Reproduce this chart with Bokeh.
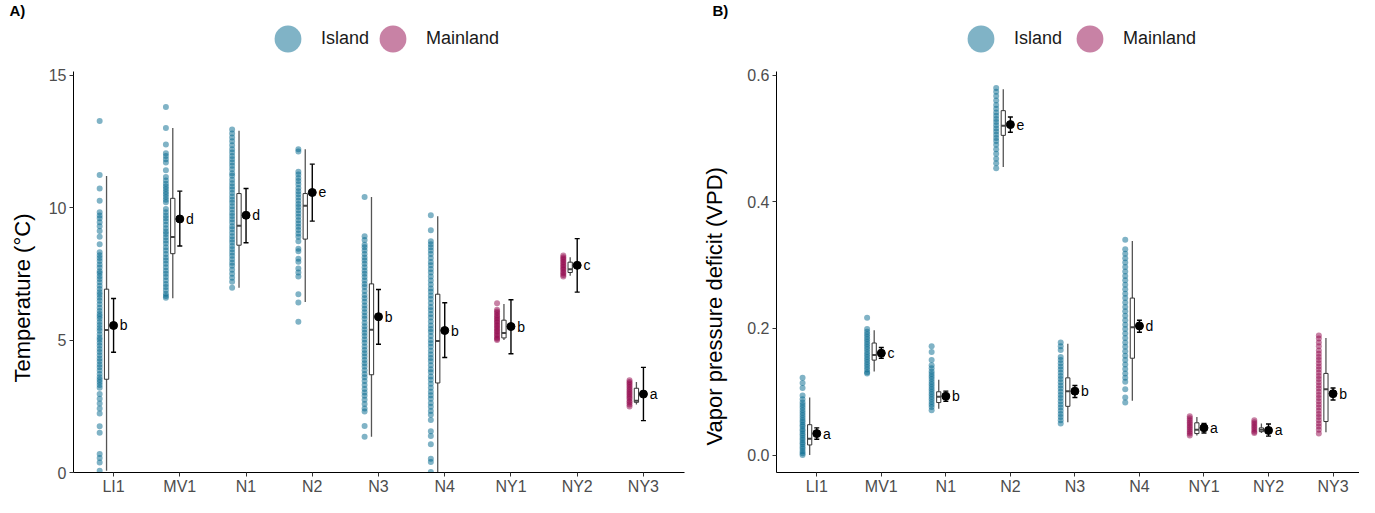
from bokeh.plotting import figure
from bokeh.models import ColumnDataSource, FixedTicker, Legend, LegendItem, Range1d, Title
from bokeh.layouts import row
from bokeh.embed import file_html
from bokeh.resources import INLINE
from bokeh.core.properties import value

# ---------------- data ----------------
categories = ["LI1", "MV1", "N1", "N2", "N3", "N4", "NY1", "NY2", "NY3"]
origin = ["Island", "Island", "Island", "Island", "Island", "Island", "Mainland", "Mainland", "Mainland"]

# Panel A: temperature (°C) raw observations per site
temp_points = {
    "LI1": [13.27, 11.23, 10.72, 10.26, 9.82, 9.7, 9.6, 9.45, 9.3, 9.12, 8.9, 8.62, 8.31, 8.2, 8.1, 7.98, 7.85,
            7.74, 7.6, 7.52, 7.41, 7.3, 7.18, 7.05, 6.93, 6.8, 6.71, 6.6, 6.48, 6.35, 6.22, 6.1, 5.98, 5.9, 5.8,
            5.68, 5.57, 5.45, 5.35, 5.22, 5.1, 5.01, 4.9, 4.78, 4.66, 4.55, 4.43, 4.3, 4.2, 4.08, 3.97, 3.85,
            3.72, 3.6, 3.5, 3.41, 3.3, 3.2, 2.96, 2.78, 2.6, 2.42, 2.23, 1.75, 1.5, 0.7, 0.55, 0.38, 0.07],
    "MV1": [13.8, 13.0, 12.38, 12.05, 11.95, 11.82, 11.7, 11.41, 11.15, 11.02, 10.9, 10.8, 10.7, 10.6, 10.5,
            10.4, 10.3, 10.2, 9.95, 9.82, 9.7, 9.6, 9.48, 9.35, 9.22, 9.1, 9.0, 8.88, 8.76, 8.64, 8.5, 8.38,
            8.25, 8.12, 8.0, 7.88, 7.75, 7.62, 7.5, 7.38, 7.25, 7.12, 7.0, 6.88, 6.75, 6.66, 6.6],
    "N1": [12.95, 12.8, 12.65, 12.5, 12.35, 12.2, 12.08, 11.95, 11.82, 11.7, 11.58, 11.45, 11.3, 11.2, 11.05,
           10.92, 10.8, 10.68, 10.55, 10.42, 10.3, 10.18, 10.05, 9.93, 9.8, 9.68, 9.56, 9.44, 9.3, 9.18, 9.05,
           8.92, 8.8, 8.68, 8.55, 8.43, 8.3, 8.18, 8.05, 7.92, 7.8, 7.65, 7.5, 7.35, 7.2, 6.97],
    "N2": [12.2, 12.12, 11.35, 11.25, 11.12, 11.0, 10.88, 10.74, 10.62, 10.5, 10.38, 10.26, 10.14, 10.02, 9.9,
           9.78, 9.65, 9.52, 9.4, 9.28, 9.15, 9.02, 8.9, 8.73, 8.45, 8.35, 8.07, 7.96, 7.7, 7.55, 7.4, 6.73,
           6.42, 5.69],
    "N3": [10.4, 8.92, 8.78, 8.6, 8.5, 8.38, 8.25, 8.12, 8.0, 7.88, 7.75, 7.62, 7.5, 7.38, 7.25, 7.12, 7.0,
           6.85, 6.7, 6.58, 6.45, 6.3, 6.18, 6.05, 5.92, 5.8, 5.65, 5.52, 5.4, 5.28, 5.15, 5.02, 4.9, 4.76,
           4.62, 4.5, 4.38, 4.25, 4.12, 4.0, 3.86, 3.72, 3.6, 3.45, 3.3, 3.15, 3.02, 2.9, 2.75, 2.59, 2.42,
           2.3, 1.76, 1.35],
    "N4": [9.71, 9.14, 8.73, 8.62, 8.5, 8.38, 8.25, 8.1, 7.95, 7.82, 7.68, 7.55, 7.4, 7.25, 7.1, 6.95, 6.82,
           6.68, 6.55, 6.4, 6.25, 6.12, 5.98, 5.85, 5.7, 5.55, 5.42, 5.3, 5.15, 5.0, 4.88, 4.75, 4.6, 4.45,
           4.32, 4.2, 4.05, 3.9, 3.78, 3.62, 3.5, 3.35, 3.2, 3.05, 2.92, 2.78, 2.62, 2.48, 2.32, 2.18, 1.98,
           1.56, 1.38, 1.07, 0.52, 0.4, 0.02],
    "NY1": [6.39, 6.14, 6.08, 6.02, 5.95, 5.89, 5.82, 5.77, 5.7, 5.65, 5.58, 5.53, 5.46, 5.41, 5.34, 5.29,
            5.22, 5.17, 5.1, 5.05, 5.0],
    "NY2": [8.19, 8.13, 8.07, 8.01, 7.95, 7.89, 7.82, 7.77, 7.7, 7.65, 7.58, 7.52, 7.46, 7.4],
    "NY3": [3.48, 3.42, 3.36, 3.29, 3.23, 3.16, 3.1, 3.03, 2.97, 2.91, 2.84, 2.78, 2.7, 2.64, 2.57, 2.49],
}
temp_q1 = [3.52, 8.26, 8.58, 8.81, 3.69, 3.38, 5.08, 7.55, 2.65]
temp_median = [5.38, 8.89, 9.31, 10.07, 5.39, 4.96, 5.27, 7.67, 2.71]
temp_q3 = [6.92, 10.35, 10.53, 10.53, 7.12, 6.73, 5.75, 7.94, 3.18]
temp_whisker_lo = [0.07, 6.58, 6.97, 6.44, 1.35, 0.0, 5.0, 7.43, 2.57]
temp_whisker_hi = [11.19, 13.0, 12.9, 12.2, 10.4, 9.67, 6.36, 8.13, 3.42]
temp_mean = [5.55, 9.57, 9.71, 10.57, 5.88, 5.36, 5.51, 7.82, 2.96]
temp_err_lo = [4.54, 8.55, 8.67, 9.49, 4.84, 4.34, 4.48, 6.81, 1.96]
temp_err_hi = [6.57, 10.62, 10.72, 11.64, 6.91, 6.41, 6.52, 8.83, 3.97]
temp_letters = ["b", "d", "d", "e", "b", "b", "b", "c", "a"]

# Panel B: vapor pressure deficit raw observations per site
vpd_points = {
    "LI1": [0.122, 0.114, 0.106, 0.094, 0.088, 0.083, 0.079, 0.075, 0.071, 0.067, 0.063, 0.059, 0.055, 0.052,
            0.048, 0.045, 0.041, 0.038, 0.034, 0.031, 0.027, 0.024, 0.02, 0.017, 0.013, 0.01, 0.006, 0.003, 0.0],
    "MV1": [0.217, 0.199, 0.195, 0.191, 0.187, 0.183, 0.179, 0.175, 0.171, 0.167, 0.163, 0.159, 0.155, 0.151,
            0.147, 0.143, 0.139, 0.135, 0.131, 0.129],
    "N1": [0.172, 0.163, 0.15, 0.142, 0.137, 0.132, 0.128, 0.124, 0.12, 0.116, 0.112, 0.108, 0.104, 0.1, 0.096,
           0.092, 0.088, 0.084, 0.08, 0.076, 0.071],
    "N2": [0.58, 0.574, 0.567, 0.56, 0.553, 0.547, 0.541, 0.536, 0.531, 0.526, 0.521, 0.516, 0.511, 0.506,
           0.501, 0.496, 0.49, 0.483, 0.476, 0.468, 0.461, 0.453],
    "N3": [0.178, 0.172, 0.166, 0.155, 0.15, 0.145, 0.14, 0.135, 0.13, 0.125, 0.12, 0.115, 0.11, 0.105, 0.1,
           0.095, 0.09, 0.085, 0.08, 0.075, 0.07, 0.065, 0.06, 0.055, 0.05],
    "N4": [0.34, 0.325, 0.318, 0.311, 0.304, 0.297, 0.29, 0.283, 0.276, 0.269, 0.262, 0.255, 0.248, 0.241,
           0.234, 0.227, 0.22, 0.213, 0.206, 0.199, 0.192, 0.185, 0.178, 0.171, 0.164, 0.157, 0.15, 0.143,
           0.136, 0.129, 0.122, 0.116, 0.104, 0.091, 0.083],
    "NY1": [0.0615, 0.058, 0.055, 0.052, 0.049, 0.046, 0.043, 0.04, 0.037, 0.034, 0.031],
    "NY2": [0.055, 0.052, 0.049, 0.046, 0.043, 0.04, 0.037, 0.035],
    "NY3": [0.189, 0.184, 0.178, 0.172, 0.165, 0.16, 0.155, 0.15, 0.145, 0.14, 0.135, 0.13, 0.125, 0.12,
            0.115, 0.11, 0.105, 0.1, 0.095, 0.09, 0.085, 0.08, 0.075, 0.07, 0.065, 0.06, 0.055, 0.05, 0.045,
            0.04, 0.034],
}
vpd_q1 = [0.016, 0.150, 0.083, 0.505, 0.077, 0.153, 0.034, 0.037, 0.053]
vpd_median = [0.026, 0.158, 0.092, 0.520, 0.101, 0.202, 0.040, 0.040, 0.104]
vpd_q3 = [0.048, 0.177, 0.100, 0.544, 0.122, 0.248, 0.051, 0.043, 0.129]
vpd_whisker_lo = [0.0, 0.132, 0.073, 0.455, 0.052, 0.086, 0.031, 0.035, 0.036]
vpd_whisker_hi = [0.091, 0.197, 0.119, 0.578, 0.176, 0.338, 0.060, 0.050, 0.185]
vpd_mean = [0.034, 0.161, 0.093, 0.522, 0.101, 0.204, 0.043, 0.039, 0.097]
vpd_err_lo = [0.025, 0.153, 0.085, 0.510, 0.091, 0.194, 0.035, 0.030, 0.087]
vpd_err_hi = [0.043, 0.170, 0.101, 0.534, 0.110, 0.213, 0.050, 0.049, 0.106]
vpd_letters = ["a", "c", "b", "e", "b", "d", "a", "a", "b"]

temp_ticks = [0, 5, 10, 15]
temp_tick_labels = ["0", "5", "10", "15"]
vpd_ticks = [0.0, 0.2, 0.4, 0.6]
vpd_tick_labels = ["0.0", "0.2", "0.4", "0.6"]

# ---------------- style ----------------
FONT = "Liberation Sans"
COLORS = {"Island": "#01678d", "Mainland": "#91054b"}
H = 497


def make_panel(tag, ylabel, points, q1, med, q3, wlo, whi, mean, elo, ehi, letters, ticks, tick_labels,
               width, xr, yr, ybounds, mbr, ylab_offset, ylab_standoff, pt_off, box_off, legend_xs):
    p = figure(width=width, height=H, x_range=Range1d(*xr), y_range=Range1d(*yr),
               output_backend="svg", toolbar_location=None,
               min_border_left=0, min_border_right=mbr, min_border_top=16, min_border_bottom=0)
    p.outline_line_color = None
    p.grid.visible = False
    p.background_fill_color = "white"

    # raw points
    renderers = {}
    for grp in ["Island", "Mainland"]:
        xs, ys = [], []
        for i, c in enumerate(categories):
            if origin[i] == grp:
                xs += [i + pt_off] * len(points[c])
                ys += points[c]
        renderers[grp] = p.scatter(xs, ys, size=6, marker="circle", fill_color=COLORS[grp],
                                   fill_alpha=0.5, line_color=None)

    idx = list(range(len(categories)))
    bx = [i + box_off for i in idx]
    bw = 0.065
    src = ColumnDataSource(dict(x=idx, bx=bx, left=[b - bw / 2 for b in bx], right=[b + bw / 2 for b in bx],
                                q1=q1, med=med, q3=q3, wlo=wlo, whi=whi, mean=mean, elo=elo, ehi=ehi,
                                tx=[i + 0.095 for i in idx], letters=letters))
    p.segment(x0="bx", x1="bx", y0="wlo", y1="whi", source=src, line_color="#555555", line_width=1.3)
    p.quad(left="left", right="right", bottom="q1", top="q3", source=src, fill_color="white",
           line_color="#333333", line_width=1)
    p.segment(x0="left", x1="right", y0="med", y1="med", source=src, line_color="#444444", line_width=2)
    p.segment(x0="x", x1="x", y0="elo", y1="ehi", source=src, line_color="black", line_width=1.4)
    p.scatter(x="x", y="elo", source=src, marker="dash", size=5, line_color="black", line_width=1.4)
    p.scatter(x="x", y="ehi", source=src, marker="dash", size=5, line_color="black", line_width=1.4)
    p.scatter(x="x", y="mean", source=src, marker="circle", size=8, fill_color="black", line_color="black")
    p.text(x="tx", y="mean", text="letters", source=src, text_font=value(FONT), text_font_size="14px",
           text_baseline="middle", text_align="left", text_color="black")

    # axes
    for ax in (p.xaxis[0], p.yaxis[0]):
        ax.axis_line_color = "black"
        ax.axis_line_width = 1
        ax.major_tick_line_color = "#333333"
        ax.major_tick_out = 4
        ax.major_tick_in = 0
        ax.minor_tick_line_color = None
        ax.major_label_text_font = FONT
        ax.major_label_text_font_size = "16px"
        ax.major_label_text_color = "#4d4d4d"
    p.xaxis.ticker = FixedTicker(ticks=idx)
    p.xaxis.major_label_overrides = {i: c for i, c in enumerate(categories)}
    p.xaxis.major_label_standoff = 1
    p.xaxis.major_label_text_line_height = 1.0
    p.xaxis.axis_label = None
    p.yaxis.ticker = FixedTicker(ticks=ticks)
    p.yaxis.major_label_overrides = {t: l for t, l in zip(ticks, tick_labels)}
    p.yaxis.major_label_standoff = 3
    p.yaxis.bounds = ybounds
    p.yaxis.axis_label = None

    ytitle = Title(text=ylabel, align="left", offset=ylab_offset, standoff=ylab_standoff, vertical_align="top",
                   text_font=FONT, text_font_size="22px", text_font_style="normal", text_color="black")
    p.add_layout(ytitle, "left")

    # panel tag
    p.title.text = tag
    p.title.text_font = FONT
    p.title.text_font_size = "15px"
    p.title.text_font_style = "bold"
    p.title.text_color = "black"
    p.title.align = "left"
    p.title.vertical_align = "middle"
    p.title.offset = -64
    p.title.standoff = 0

    for lab, lx in zip(["Island", "Mainland"], legend_xs):
        legend = Legend(items=[LegendItem(label=lab, renderers=[renderers[lab]])],
                        orientation="horizontal", location=(lx, 400), glyph_width=67, glyph_height=67,
                        label_text_font=FONT, label_text_font_size="18px", label_text_color="#1a1a1a",
                        border_line_color=None, background_fill_alpha=0, padding=0, margin=0,
                        label_standoff=0)
        p.add_layout(legend)
    return p


pA = make_panel("A)", "Temperature (°C)", temp_points, temp_q1, temp_median, temp_q3, temp_whisker_lo,
                temp_whisker_hi, temp_mean, temp_err_lo, temp_err_hi, temp_letters, temp_ticks, temp_tick_labels,
                width=686, xr=(-0.605, 8.62), yr=(0, 17.1), ybounds=(0, 15.15), mbr=2,
                ylab_offset=90, ylab_standoff=18, pt_off=-0.21, box_off=-0.106, legend_xs=(181, 286))
pB = make_panel("B)", "Vapor pressure deficit (VPD)", vpd_points, vpd_q1, vpd_median, vpd_q3, vpd_whisker_lo,
                vpd_whisker_hi, vpd_mean, vpd_err_lo, vpd_err_hi, vpd_letters, vpd_ticks, vpd_tick_labels,
                width=673, xr=(-0.624, 8.41), yr=(-0.0275, 0.688), ybounds=(-0.0275, 0.606), mbr=0,
                ylab_offset=27, ylab_standoff=31, pt_off=-0.22, box_off=-0.11, legend_xs=(171, 280))

layout = row(pA, pB)
open("out.html", "w").write(file_html(layout, INLINE))
